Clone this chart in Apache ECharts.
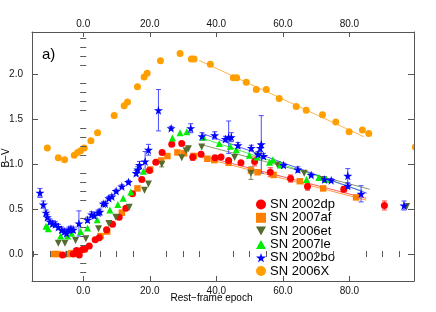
<!DOCTYPE html>
<html><head><meta charset="utf-8">
<script src="https://cdn.jsdelivr.net/npm/echarts@6/dist/echarts.min.js"></script>
<style>html,body{margin:0;padding:0;background:#fff}#c{width:436px;height:312px}</style>
</head><body><div id="c"></div>
<script>
// ---- axis ranges / tick labels ----
const X_MIN = -15.4, X_MAX = 99.4;
const Y_MIN = -0.3, Y_MAX = 2.47;
const xMajor = [0, 20, 40, 60, 80];
const xMinor = [-15, -10, -5, 5, 10, 15, 25, 30, 35, 45, 50, 55, 65, 70, 75, 85, 90, 95];
const yMajor = [0, 0.5, 1.0, 1.5, 2.0];
const yMinor = [-0.2, -0.1, 0.1, 0.2, 0.3, 0.4, 0.6, 0.7, 0.8, 0.9, 1.1, 1.2, 1.3, 1.4, 1.6, 1.7, 1.8, 1.9, 2.1, 2.2, 2.3, 2.4];
const legendNames = ['SN 2002dp', 'SN 2007af', 'SN 2006et', 'SN 2007le', 'SN 2002bo', 'SN 2006X'];

// ---- SN 2006X ----
const x06X = [-10.8,-7.5,-5.6,-2.7,-1.7,-0.8,0.3,2.3,4.3,9.3,12.3,13.3,16.3,18.3,19.2,23.2,29.1,32.5,33.3,38.2,45.1,46.1,49.0,52.0,55.0,58.9,64.0,67.0,71.9,75.9,79.9,83.9,85.8,99.8];
const y06X = [1.18,1.07,1.05,1.10,1.13,1.15,1.18,1.26,1.35,1.54,1.65,1.69,1.86,1.97,2.01,2.15,2.23,2.17,2.17,2.11,1.96,1.96,1.91,1.83,1.83,1.73,1.64,1.60,1.55,1.47,1.36,1.38,1.34,1.19];
const fit06X = [[34.9, 2.153], [84.3, 1.305]];

// ---- SN 2002bo ----
const x02bo = [-13.0,-12.0,-11.2,-10.8,-10.0,-9.2,-8.4,-7.5,-6.5,-5.7,-5.0,-4.3,-3.7,-3.0,-1.3,1.3,2.5,3.3,4.5,5.0,6.0,6.6,7.7,8.6,9.9,11.6,13.6,15.9,16.4,16.9,18.6,19.6,22.6,26.4,32.3,35.7,39.5,42.7,43.7,44.5,46.5,50.5,52.5,53.2,53.5,54.2,60.2,64.5,68.5,72.5,74.5,79.5,79.5,83.5,96.4];
const y02bo = [0.68,0.55,0.46,0.41,0.36,0.34,0.33,0.30,0.27,0.25,0.23,0.27,0.28,0.27,0.34,0.38,0.44,0.43,0.46,0.47,0.56,0.56,0.62,0.64,0.70,0.75,0.80,0.90,0.94,0.99,1.03,1.16,1.60,1.40,1.40,1.31,1.32,1.28,1.30,1.30,1.21,1.18,1.11,1.18,1.22,1.09,0.99,0.94,0.88,0.83,0.82,0.87,0.76,0.67,0.54];
const e02bo = [0.05,0.04,0.03,0.03,0.03,0.03,0.03,0.03,0.03,0.03,0.03,0.03,0.03,0.03,0.14,0.03,0.03,0.03,0.03,0.03,0.02,0.02,0.02,0.02,0.02,0.02,0.02,0.03,0.03,0.04,0.11,0.06,0.23,0.02,0.05,0.04,0.04,0.03,0.18,0.05,0.03,0.03,0.03,0.04,0.32,0.03,0.02,0.03,0.02,0.02,0.02,0.08,0.03,0.09,0.05];
const fit02bo = [[35.5, 1.345], [85.2, 0.677]];

// ---- SN 2007le ----
const x07le = [-11.2,-10.5,-6.8,-4.7,-3.5,-0.8,1.3,4.2,8.0,10.4,12.0,14.3,18.1,26.8,29.1,31.1,36.1,40.9,44.2,46.0,49.9,52.2,56.0,57.0,59.2,67.1,70.8,73.0];
const y07le = [0.31,0.28,0.20,0.20,0.23,0.25,0.29,0.38,0.49,0.55,0.62,0.69,0.92,1.29,1.35,1.36,1.30,1.23,1.20,1.16,1.10,1.08,1.02,1.05,0.99,0.83,0.85,0.83];
const fit07le = [[35.7, 1.29], [84.0, 0.70]];

// ---- SN 2006et ----
const x06et = [-7.5,-5.5,-2.3,0.8,4.6,7.7,9.8,13.8,18.4,19.6,23.6,29.6,30.9,31.6,35.6,45.5,50.4,52.5,58.4,66.4,72.2,97.2];
const y06et = [0.12,0.12,0.15,0.17,0.28,0.34,0.41,0.52,0.71,0.78,1.00,1.07,1.15,1.17,1.19,1.075,0.90,1.09,0.99,0.90,0.83,0.53];
const e06et = [0,0,0,0,0,0,0,0,0,0,0.03,0,0,0,0,0,0.07,0,0,0,0,0];
const fit06et = [[35.2, 1.22], [86.1, 0.72]];

// ---- SN 2002dp ----
const x02dp = [-6.2,-3.0,-2.0,-1.2,-0.2,0.5,1.8,3.6,4.8,7.0,8.8,10.8,12.8,14.8,17.6,19.9,21.8,23.7,26.6,29.6,32.9,35.4,39.6,41.4,43.7,47.4,51.5,56.2,62.3,67.4,78.3,90.5];
const y02dp = [-0.01,0.00,0.04,-0.01,0.05,0.06,0.09,0.16,0.18,0.27,0.33,0.41,0.51,0.67,0.83,0.93,1.02,1.13,1.22,1.23,1.08,1.11,1.07,1.08,1.04,1.015,1.03,0.91,0.84,0.75,0.72,0.54];
const e02dp = [0,0,0,0,0,0,0,0,0,0,0,0,0,0,0,0,0,0,0,0,0.04,0,0,0,0,0,0.05,0.05,0.04,0.04,0.03,0.05];
const fit02dp = [[35.0, 1.10], [85.0, 0.62]];

// ---- SN 2007af ----
const x07af = [-8.7,-7.7,-4.5,-3.5,-2.0,0.3,5.2,7.2,11.6,16.3,20.1,23.4,25.3,28.3,30.3,33.3,37.3,39.4,43.7,50.4,52.4,57.2,65.1,72.1,82.0];
const y07af = [0.00,0.00,0.00,0.01,0.03,0.05,0.20,0.25,0.46,0.73,0.94,1.04,1.09,1.13,1.12,1.09,1.06,1.045,1.015,0.93,0.91,0.88,0.81,0.73,0.63];
const fit07af = [[35.0, 1.08], [85.0, 0.60]];

// ---- helpers ----
const pairs = (xs, ys) => xs.map((x, i) => [x, ys[i]]);
const STAR = 'path://M50,0 L61,35 L98,35 L68,57 L79,91 L50,70 L21,91 L32,57 L2,35 L39,35 Z';
const TRI_DOWN = 'path://M0,0 L10,0 L5,9 Z';
const TRI_UP = 'path://M5,0 L10,9 L0,9 Z';
const FONT = '"Liberation Sans", Arial, Helvetica, sans-serif';
const AX = '#555';

function errSeries(name, xs, ys, es, color) {
  const data = xs.map((x, i) => [x, ys[i], es[i]]).filter(d => d[2] > 0);
  return {
    type: 'custom', name: name + ' err', data, z: 2, silent: true,
    encode: { x: 0, y: 1 },
    renderItem(params, api) {
      const x = api.value(0), y = api.value(1), e = api.value(2);
      const a = api.coord([x, y + e]), b = api.coord([x, y - e]);
      const w = 2.5, st = { stroke: color, lineWidth: 1 };
      return { type: 'group', children: [
        { type: 'line', shape: { x1: a[0], y1: a[1], x2: b[0], y2: b[1] }, style: st },
        { type: 'line', shape: { x1: a[0] - w, y1: a[1], x2: a[0] + w, y2: a[1] }, style: st },
        { type: 'line', shape: { x1: b[0] - w, y1: b[1], x2: b[0] + w, y2: b[1] }, style: st }
      ] };
    }
  };
}
function fitSeries(name, pts, color) {
  return { type: 'line', name: name + ' fit', data: pts, symbol: 'none', silent: true, z: 1,
    lineStyle: { color, width: 1 } };
}
function scat(name, xs, ys, symbol, size, color, z) {
  return { type: 'scatter', name, data: pairs(xs, ys), symbol, symbolSize: size,
    itemStyle: { color, opacity: 1 }, z: z || 3, clip: false };
}

const C = {
  dp: '#ff0000', af: '#ff7f00', et: '#556b2f', le: '#00ee00', bo: '#0000ff', X: '#ffa000'
};

function axisBase(extra) {
  return Object.assign({ type: 'value', splitLine: { show: false }, z: 50,
    axisLine: { show: true, onZero: false, lineStyle: { color: AX, width: 1 } } }, extra);
}

const chart = echarts.init(document.getElementById('c'), null, { renderer: 'canvas' });
const xLab = { customValues: xMajor, formatter: v => v.toFixed(1), fontSize: 10, color: '#111', fontFamily: FONT };
const yLab = { customValues: yMajor, formatter: v => v.toFixed(1), fontSize: 10, color: '#111', fontFamily: FONT, margin: 9 };
chart.setOption({
  animation: false,
  backgroundColor: '#fff',
  grid: { left: 32, right: 22, top: 32, bottom: 31 },
  xAxis: [
    axisBase({ position: 'bottom', min: X_MIN, max: X_MAX, axisTick: { inside: true, length: 5, customValues: xMajor, lineStyle: { color: AX } }, axisLabel: Object.assign({ margin: 5 }, xLab) }),
    axisBase({ position: 'bottom', min: X_MIN, max: X_MAX, axisLine: { show: false }, axisTick: { inside: true, length: 3, customValues: xMinor, lineStyle: { color: AX } }, axisLabel: { show: false } }),
    axisBase({ position: 'top', min: X_MIN, max: X_MAX, axisTick: { inside: true, length: 5, customValues: xMajor, lineStyle: { color: AX } }, axisLabel: Object.assign({ margin: 3 }, xLab) }),
    axisBase({ position: 'top', min: X_MIN, max: X_MAX, axisLine: { show: false }, axisTick: { inside: true, length: 3, customValues: xMinor, lineStyle: { color: AX } }, axisLabel: { show: false } })
  ],
  yAxis: [
    axisBase({ position: 'left', min: Y_MIN, max: Y_MAX, axisTick: { inside: true, length: 6, customValues: yMajor, lineStyle: { color: AX } }, axisLabel: yLab }),
    axisBase({ position: 'left', min: Y_MIN, max: Y_MAX, axisLine: { show: false }, axisTick: { inside: true, length: 3, customValues: yMinor, lineStyle: { color: AX } }, axisLabel: { show: false } }),
    axisBase({ position: 'right', min: Y_MIN, max: Y_MAX, axisTick: { inside: true, length: 6, customValues: yMajor, lineStyle: { color: AX } }, axisLabel: { show: false } }),
    axisBase({ position: 'right', min: Y_MIN, max: Y_MAX, axisLine: { show: false }, axisTick: { inside: true, length: 3, customValues: yMinor, lineStyle: { color: AX } }, axisLabel: { show: false } })
  ],
  legend: {
    orient: 'vertical', left: 256, top: 198, itemWidth: 10, itemHeight: 10, itemGap: 0.3, padding: 0,
    textStyle: { fontSize: 13, lineHeight: 13, color: '#000', fontFamily: FONT, padding: [0, 0, 0, -1] },
    selectedMode: false,
    data: [
      { name: 'SN 2002dp', icon: 'circle' },
      { name: 'SN 2007af', icon: 'rect' },
      { name: 'SN 2006et', icon: TRI_DOWN },
      { name: 'SN 2007le', icon: TRI_UP },
      { name: 'SN 2002bo', icon: STAR },
      { name: 'SN 2006X', icon: 'circle' }
    ]
  },
  graphic: [
    { type: 'rect', shape: { x: 414.5, y: 20, width: 30, height: 280 }, style: { fill: '#fff' }, z: 40 },
    { type: 'text', x: 42, y: 55, z: 60, style: { text: 'a)', fontSize: 15, fontFamily: FONT, fill: '#000', verticalAlign: 'middle' } },
    { type: 'text', x: 211.5, y: 298, z: 60, style: { text: 'Rest\u2212frame epoch', fontSize: 10, fontFamily: FONT, fill: '#000', align: 'center', verticalAlign: 'middle' } },
    { type: 'text', x: 6, y: 158, rotation: Math.PI / 2, z: 60, style: { text: 'B\u2212V', fontSize: 10, fontFamily: FONT, fill: '#000', align: 'center', verticalAlign: 'middle' } }
  ],
  series: [
    fitSeries('SN 2006X', fit06X, '#ffb54a'),
    fitSeries('SN 2007af', fit07af, '#ff9a40'),
    fitSeries('SN 2002dp', fit02dp, '#ff5a5a'),
    fitSeries('SN 2006et', fit06et, '#8c9870'),
    fitSeries('SN 2007le', fit07le, '#50f050'),
    fitSeries('SN 2002bo', fit02bo, '#5a5aff'),
    errSeries('SN 2006et', x06et, y06et, e06et, '#7a8a5a'),
    errSeries('SN 2002dp', x02dp, y02dp, e02dp, '#ff4040'),
    errSeries('SN 2002bo', x02bo, y02bo, e02bo, '#4a4aff'),
    scat('SN 2006X', x06X, y06X, 'circle', 7, C.X, 3),
    scat('SN 2007af', x07af, y07af, 'rect', 6.5, C.af, 3),
    scat('SN 2002dp', x02dp, y02dp, 'circle', 7, C.dp, 4),
    scat('SN 2006et', x06et, y06et, TRI_DOWN, 7, C.et, 4),
    scat('SN 2007le', x07le, y07le, TRI_UP, 7, C.le, 5),
    scat('SN 2002bo', x02bo, y02bo, STAR, 9, C.bo, 6)
  ]
});
</script>
</body></html>
